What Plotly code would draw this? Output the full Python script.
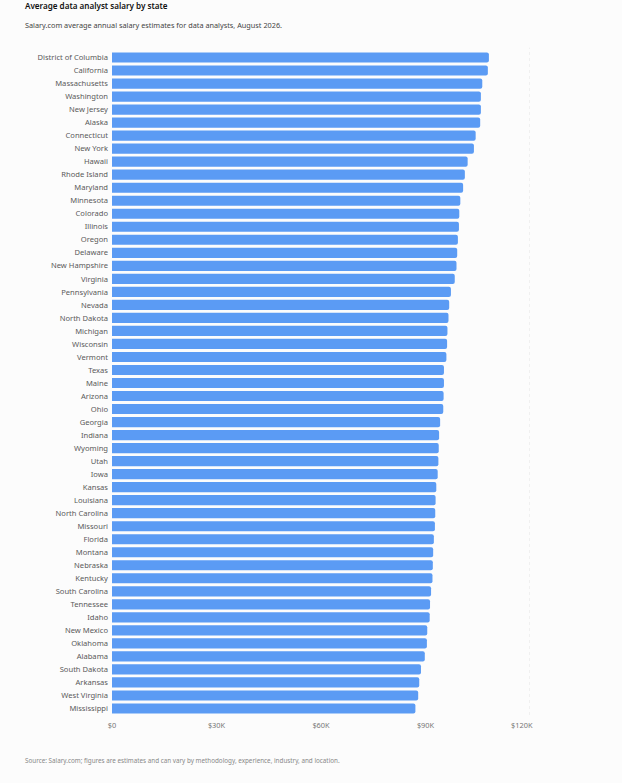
import plotly.graph_objects as go

states = ["District of Columbia", "California", "Massachusetts", "Washington", "New Jersey",
          "Alaska", "Connecticut", "New York", "Hawaii", "Rhode Island", "Maryland",
          "Minnesota", "Colorado", "Illinois", "Oregon", "Delaware", "New Hampshire",
          "Virginia", "Pennsylvania", "Nevada", "North Dakota", "Michigan", "Wisconsin",
          "Vermont", "Texas", "Maine", "Arizona", "Ohio", "Georgia", "Indiana", "Wyoming",
          "Utah", "Iowa", "Kansas", "Louisiana", "North Carolina", "Missouri", "Florida",
          "Montana", "Nebraska", "Kentucky", "South Carolina", "Tennessee", "Idaho",
          "New Mexico", "Oklahoma", "Alabama", "South Dakota", "Arkansas", "West Virginia",
          "Mississippi"]

salaries = [108200, 107900, 106300, 105900, 105900, 105700, 104400, 103900, 102100, 101300,
            100800, 100000, 99700, 99600, 99300, 99100, 98900, 98400, 97300, 96800,
            96600, 96300, 96200, 96000, 95300, 95300, 95200, 95100, 94200, 93900,
            93800, 93700, 93500, 93100, 92900, 92800, 92700, 92400, 92200, 92100,
            92000, 91600, 91300, 91200, 90500, 90400, 89800, 88700, 88200, 87900,
            87100]

tick_vals = [0, 30000, 60000, 90000]
tick_text = ["$0", "$30K", "$60K", "$90K"]
last_tick = 120000
last_tick_text = "$120K"

FONT = "Noto Sans"
BG = "#fcfcfc"
LEFT_X = -0.213  # paper x of the header / footer texts

fig = go.Figure()
fig.add_trace(go.Bar(
    x=salaries, y=states, orientation="h",
    marker=dict(color="#5b9bf4", cornerradius=2, line=dict(width=0)),
    hovertemplate="%{y}: $%{x:,.0f}<extra></extra>",
))

fig.update_layout(
    width=622, height=783,
    paper_bgcolor=BG, plot_bgcolor=BG,
    margin=dict(l=112, r=92, t=51, b=68),
    bargap=0.22,
    showlegend=False,
    font=dict(family=FONT, size=8, color="#666666"),
    xaxis=dict(range=[0, 120000], tickvals=tick_vals, ticktext=tick_text,
               showgrid=False, zeroline=False, showline=False, ticklabelstandoff=5,
               tickfont=dict(size=7.4, color="#777777")),
    yaxis=dict(autorange="reversed", showgrid=False, zeroline=False,
               ticks="", ticklabelstandoff=3,
               tickfont=dict(size=7.6, color="#5a5a5a")),
    shapes=[dict(type="line", xref="x", yref="paper", x0=last_tick, x1=last_tick,
                 y0=0, y1=1.005,
                 line=dict(color="#e4e4e4", width=1, dash="dot"), layer="below")],
    annotations=[
        dict(text=last_tick_text, xref="x", yref="paper", x=last_tick, y=0,
             xanchor="center", yanchor="top", xshift=-8, yshift=-3, showarrow=False,
             font=dict(size=7.4, color="#777777", family=FONT)),
        dict(text="Average data analyst salary by state", xref="paper", yref="paper",
             x=LEFT_X, y=1.0678, xanchor="left", yanchor="middle", showarrow=False,
             font=dict(size=8.1, color="#111111", family=FONT, weight=600)),
        dict(text="Salary.com average annual salary estimates for data analysts, August 2026.",
             xref="paper", yref="paper", x=LEFT_X, y=1.0392, xanchor="left",
             yanchor="middle", showarrow=False,
             font=dict(size=7.3, color="#444444", family=FONT)),
        dict(text="Source: Salary.com; figures are estimates and can vary by methodology, "
                  "experience, industry, and location.",
             xref="paper", yref="paper", x=LEFT_X, y=-0.0678, xanchor="left",
             yanchor="middle", showarrow=False,
             font=dict(size=6.3, color="#888888", family=FONT)),
    ],
)

fig.write_html("out.html", config={"displayModeBar": False},
               post_script="document.body.style.margin='0';"
                           "document.body.style.background='#fcfcfc';")
